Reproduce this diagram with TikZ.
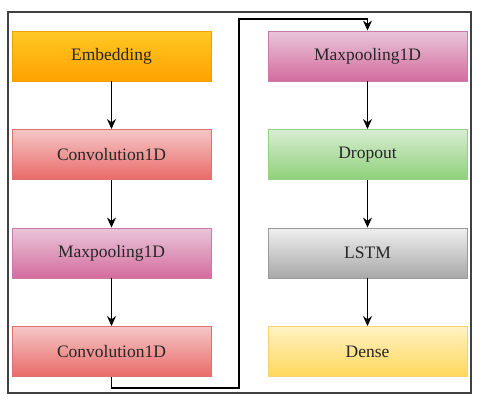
\documentclass[tikz,border=0pt]{standalone}
\usepackage{fontspec}
\setmainfont{Liberation Serif}
\usetikzlibrary{arrows.meta}
\definecolor{embT}{HTML}{FFC824}\definecolor{embB}{HTML}{FFA200}\definecolor{embD}{HTML}{F0A000}
\definecolor{cnvT}{HTML}{F5C6C6}\definecolor{cnvB}{HTML}{E86A68}\definecolor{cnvD}{HTML}{E07070}
\definecolor{mxpT}{HTML}{E9C6D9}\definecolor{mxpB}{HTML}{D46C9E}\definecolor{mxpD}{HTML}{C97AA8}
\definecolor{drpT}{HTML}{D8EDD2}\definecolor{drpB}{HTML}{8FD07A}\definecolor{drpD}{HTML}{96D084}
\definecolor{lstT}{HTML}{EFEFEF}\definecolor{lstB}{HTML}{A8A8A8}\definecolor{lstD}{HTML}{9A9A9A}
\definecolor{dnsT}{HTML}{FFF2C4}\definecolor{dnsB}{HTML}{FFD75A}\definecolor{dnsD}{HTML}{F5D470}
\tikzset{
  layer/.style={minimum width=199pt, minimum height=50pt, inner sep=0pt, line width=0.9pt, font=\fontsize{17.5}{19}\selectfont, text=black!85},
  emb/.style={layer, draw=embD, top color=embT, bottom color=embB},
  cnv/.style={layer, draw=cnvD, top color=cnvT, bottom color=cnvB},
  mxp/.style={layer, draw=mxpD, top color=mxpT, bottom color=mxpB},
  drp/.style={layer, draw=drpD, top color=drpT, bottom color=drpB},
  lst/.style={layer, draw=lstD, top color=lstT, bottom color=lstB},
  dns/.style={layer, draw=dnsD, top color=dnsT, bottom color=dnsB},
  conn/.style={line width=1.3pt, black, -{Stealth[length=10pt,width=9pt]}},
  frame/.style={line width=1.3pt, draw=black!75}
}
\begin{document}
\begin{tikzpicture}[x=1pt,y=-1pt]
\useasboundingbox (0,0) rectangle (480,405);
\draw[frame] (8,12) rectangle (471,393);
\node[emb] (e)  at (111.5,56)    {Embedding};
\node[cnv] (c1) at (111.5,154.5) {Convolution1D};
\node[mxp] (m1) at (111.5,253)   {Maxpooling1D};
\node[cnv] (c2) at (111.5,351.5) {Convolution1D};
\node[mxp] (m2) at (367.5,56)    {Maxpooling1D};
\node[drp] (d)  at (367.5,154.5) {Dropout};
\node[lst] (l)  at (367.5,253)   {LSTM};
\node[dns] (n)  at (367.5,351.5) {Dense};
\coordinate (t1) at (239,388);
\coordinate (t2) at (239,19);
\draw[conn] (e) -- (c1);
\draw[conn] (c1) -- (m1);
\draw[conn] (m1) -- (c2);
\draw[conn] (m2) -- (d);
\draw[conn] (d) -- (l);
\draw[conn] (l) -- (n);
\draw[conn] (c2.south) |- (t1) -- (t2) -| (m2.north);
\end{tikzpicture}
\end{document}
